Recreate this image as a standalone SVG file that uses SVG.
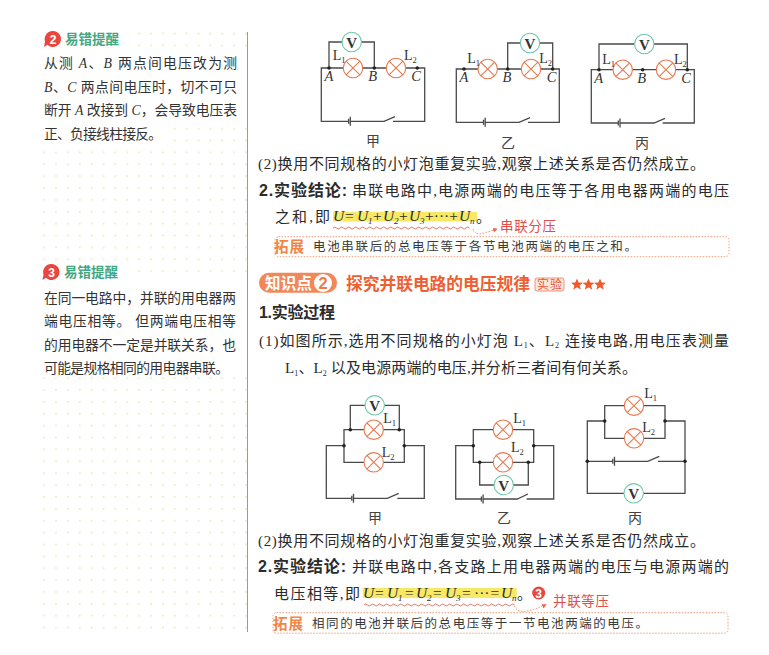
<svg xmlns="http://www.w3.org/2000/svg" width="769" height="655" viewBox="0 0 769 655">
<style>
text{font-family:"Liberation Serif","Noto Sans CJK SC",serif;fill:#2b2b2b}
.b{font-size:15px}
.side{font-size:13.8px;fill:#333}
.bh{font-family:"Liberation Sans","Noto Sans CJK SC",sans-serif;font-weight:700;font-size:16px;fill:#2b2b2b}
.head{font-family:"Noto Sans CJK SC",sans-serif;font-weight:700;font-size:13.5px;fill:#3fa883}
.num{font-family:"Liberation Sans",sans-serif;font-weight:700;font-size:12px;fill:#fff;text-anchor:middle}
.wire{fill:none;stroke:#4a4a4a;stroke-width:1.3}
.lamp{fill:#fff;stroke:#e8794f;stroke-width:1.1}
.vm{fill:#fff;stroke:#6fc6ab;stroke-width:1.1}
.dot{fill:#222}
.vt{font-size:15px;font-weight:700;text-anchor:middle;fill:#333}
.l{font-size:14px;fill:#333}
.lsub{font-size:8.5px}
.pt{font-size:14.5px;font-style:italic;text-anchor:middle;fill:#333}
.cap{font-size:14px;text-anchor:middle;fill:#444;font-family:"Noto Sans CJK SC",sans-serif}
.hl{fill:#f7e866}
.f{font-size:15.5px;font-style:italic}
.fs{font-size:9px;font-style:italic}
.wave{fill:none;stroke:#e8674f;stroke-width:.9}
.arc{fill:none;stroke:#e8674f;stroke-width:.8;stroke-dasharray:1.5 1.5}
.hand{font-family:"Noto Sans CJK SC",sans-serif;font-size:13.5px;fill:#e0504a}
.box{fill:#fff;stroke:#f0936a;stroke-width:.9;stroke-dasharray:1.5 1.5}
.ext{font-family:"Noto Sans CJK SC",sans-serif;font-weight:700;font-size:14.5px;fill:#f08545}
.extt{font-size:12.5px;fill:#3a3a3a}
</style>
<defs>
<pattern id="dots" x="43.3" y="32.7" width="11.87" height="11.88" patternUnits="userSpaceOnUse"><rect x="0" y="0" width="1.7" height="1.7" fill="#eae9bf"/></pattern>
<g id="lamp"><circle class="lamp" r="9.7"/><path class="lamp" d="M-6.9-6.9 6.9 6.9M-6.9 6.9 6.9-6.9"/></g>
<g id="vm"><circle class="vm" r="9.7"/><text class="vt" y="5.500">V</text></g>
<polygon id="star" points="0,-6 1.7,-1.9 6,-1.8 2.6,1 3.8,5.3 0,2.8 -3.8,5.3 -2.6,1 -6,-1.8 -1.7,-1.900" fill="#ee5a2c"/>
<marker id="ah" markerWidth="7" markerHeight="7" refX="5" refY="3" orient="auto"><path d="M0 0 6 3 0 6z" fill="#e8674f"/></marker>
</defs>
<rect width="769" height="655" fill="#fff"/>

<g id="sidebar">
<rect x="42" y="31" width="206" height="602" fill="url(#dots)"/>
<rect x="42" y="30" width="86" height="20" fill="#fff"/>
<rect x="42" y="50" width="206" height="74" fill="#fff"/>
<rect x="42" y="124" width="124" height="22" fill="#fff"/>
<rect x="42" y="262" width="86" height="20" fill="#fff"/>
<rect x="42" y="282" width="206" height="94" fill="#fff"/>
<path d="M247.500 32V632" stroke="#9a9a9a" stroke-width="1"/>
</g>

<g id="note2">
<path d="M53 31a8 8 0 1 1-5.500 13.800L44 47l1-5.500A8 8 0 0 1 53 31z" fill="#e8473f"/>
<text class="num" x="53" y="43.500">2</text>
<text class="head" x="65" y="44" textLength="54">易错提醒</text>
<text class="side" x="44" y="68" textLength="193">从测 <tspan font-style="italic">A</tspan>、<tspan font-style="italic">B</tspan> 两点间电压改为测</text>
<text class="side" x="44" y="91.500" textLength="193"><tspan font-style="italic">B</tspan>、<tspan font-style="italic">C</tspan> 两点间电压时，切不可只</text>
<text class="side" x="44" y="114.500" textLength="193">断开 <tspan font-style="italic">A</tspan> 改接到 <tspan font-style="italic">C</tspan>，会导致电压表</text>
<text class="side" x="44" y="139" textLength="118">正、负接线柱接反。</text>
</g>
<g id="note3">
<path d="M51.500 264a8 8 0 1 1-5.500 13.800L42.500 280l1-5.500A8 8 0 0 1 51.500 264z" fill="#e8473f"/>
<text class="num" x="51.500" y="276.500">3</text>
<text class="head" x="64" y="277" textLength="54">易错提醒</text>
<text class="side" x="44" y="302.500" textLength="192">在同一电路中，并联的用电器两</text>
<text class="side" x="44" y="326" textLength="192">端电压相等。 但两端电压相等</text>
<text class="side" x="44" y="349.500" textLength="192">的用电器不一定是并联关系，也</text>
<text class="side" x="44" y="373" textLength="185">可能是规格相同的用电器串联。</text>
</g>

<g id="connectors">
<path class="wire" d="M348.600 121.300H321.300V68H424.700V121.300H393M350.300 121.300H384L395 116.700M329 68V42H374.300V68M348.600 118.800V123.800M350.300 116.800V125.800"/>
<path class="wire" d="M483.500 122.300H456.300V69H559.300V122.300H528M485.200 122.300H519L530 117.700M507.700 69V43H552.700V69M483.500 119.800V124.800M485.200 117.800V126.800"/>
<path class="wire" d="M618.300 123H591.300V69.700H694.300V123H662.700M620 123H654L665 118.400M599 69.700V44H687.300V69.700M618.300 120.500V125.500M620 118.500V127.500"/>
<path class="wire" d="M351.800 498.300H326.300V445.700H344M404.300 445.700H424.300V498.300H397.300M353.500 498.300H387.300L398.700 493.300M344 429.700H404.300V462.300H344ZM350.300 429.700V405.300H399.300V429.700M351.800 495.800V500.800M353.500 493.800V502.800"/>
<path class="wire" d="M481.400 499H455.700V445.700H473.300M533.700 445.700H553.700V499H526.700M483.100 499H517.300L528 494M473.300 429.700H533.700V462.300H473.300ZM479.700 462.300V485H528.300V462.300M481.400 496.500V501.500M483.100 494.500V503.500"/>
<path class="wire" d="M604.700 405.700H665V438.300H604.700ZM604.700 421H587.300V493.300H685V421H665M587.300 461.300H612.800M614.500 461.300H647.700L659.300 456.300M658 461.300H685M612.800 458.800V463.800M614.500 456.800V465.800"/>
<g id="notes-arcs">
<path class="wave" d="M333 228q1.750-2 3.500 0t3.500 0 3.500 0 3.500 0 3.500 0 3.500 0 3.500 0 3.500 0 3.500 0 3.500 0 3.500 0 3.500 0 3.500 0 3.500 0 3.500 0 3.500 0 3.500 0 3.500 0 3.500 0 3.500 0 3.500 0 3.500 0 3.500 0 3.500 0 3.500 0 3.500 0 3.500 0 3.500 0 3.500 0 3.500 0 3.500 0 3.500 0 3.500 0 3.500 0 3.500 0 3.500 0 3.500 0 3.500 0 3.500 0"/>
<path class="arc" d="M473 229Q475 236 484 233Q491 231 497 229" marker-end="url(#ah)"/>
<path class="wave" d="M364 605q1.750-2 3.500 0t3.500 0 3.500 0 3.500 0 3.500 0 3.500 0 3.500 0 3.500 0 3.500 0 3.500 0 3.500 0 3.500 0 3.500 0 3.500 0 3.500 0 3.500 0 3.500 0 3.500 0 3.500 0 3.500 0 3.500 0 3.500 0 3.500 0 3.500 0 3.500 0 3.500 0 3.500 0 3.500 0 3.500 0 3.500 0 3.500 0 3.500 0 3.500 0 3.500 0 3.500 0 3.500 0 3.500 0 3.500 0 3.500 0 3.500 0 3.500 0 3.500 0 3.500 0"/>
<path class="arc" d="M514 606Q518 613 527 611Q537 609 546 604.500" marker-end="url(#ah)"/>
</g>
</g>

<g id="s1-L1"><use href="#lamp" x="353" y="68"/><text class="l" x="332.700" y="60">L<tspan class="lsub" dy="3">1</tspan></text></g>
<g id="s1-L2"><use href="#lamp" x="396" y="68"/><text class="l" x="404" y="60">L<tspan class="lsub" dy="3">2</tspan></text></g>
<g id="s1-V"><use href="#vm" x="351.700" y="42"/></g>
<g id="s1-pts"><circle class="dot" cx="329" cy="68" r="1.800"/><circle class="dot" cx="374.300" cy="68" r="1.800"/><circle class="dot" cx="417.300" cy="68" r="1.800"/><text class="pt" x="329" y="81">A</text><text class="pt" x="372.700" y="81">B</text><text class="pt" x="416" y="81">C</text></g>
<text class="cap" x="373" y="146">甲</text>

<g id="s2-L1"><use href="#lamp" x="487.700" y="69"/><text class="l" x="467.300" y="62.700">L<tspan class="lsub" dy="3">1</tspan></text></g>
<g id="s2-L2"><use href="#lamp" x="531" y="69"/><text class="l" x="539.300" y="62.700">L<tspan class="lsub" dy="3">2</tspan></text></g>
<g id="s2-V"><use href="#vm" x="530" y="43"/></g>
<g id="s2-pts"><circle class="dot" cx="464" cy="69" r="1.800"/><circle class="dot" cx="507.700" cy="69" r="1.800"/><circle class="dot" cx="552.700" cy="69" r="1.800"/><text class="pt" x="464" y="82">A</text><text class="pt" x="507" y="82">B</text><text class="pt" x="551.700" y="82">C</text></g>
<text class="cap" x="508" y="148">乙</text>

<g id="s3-L1"><use href="#lamp" x="622.700" y="69.700"/><text class="l" x="602.300" y="63.700">L<tspan class="lsub" dy="3">1</tspan></text></g>
<g id="s3-L2"><use href="#lamp" x="666" y="69.700"/><text class="l" x="674" y="63.700">L<tspan class="lsub" dy="3">2</tspan></text></g>
<g id="s3-V"><use href="#vm" x="644.300" y="44"/></g>
<g id="s3-pts"><circle class="dot" cx="599" cy="69.700" r="1.800"/><circle class="dot" cx="642.700" cy="69.700" r="1.800"/><circle class="dot" cx="687.300" cy="69.700" r="1.800"/><text class="pt" x="598.700" y="82.500">A</text><text class="pt" x="641.700" y="82.500">B</text><text class="pt" x="686" y="82.500">C</text></g>
<text class="cap" x="642" y="148">丙</text>

<g id="p1-L1"><use href="#lamp" x="373.700" y="429.700"/><text class="l" x="383.300" y="423">L<tspan class="lsub" dy="3">1</tspan></text></g>
<g id="p1-L2"><use href="#lamp" x="373.700" y="462.300"/><text class="l" x="381.700" y="456.700">L<tspan class="lsub" dy="3">2</tspan></text></g>
<g id="p1-V"><use href="#vm" x="374.700" y="405.300"/></g>
<g id="p1-pts"><circle class="dot" cx="350.300" cy="429.700" r="1.800"/><circle class="dot" cx="399.300" cy="429.700" r="1.800"/><circle class="dot" cx="344" cy="445.700" r="1.800"/><circle class="dot" cx="404.300" cy="445.700" r="1.800"/></g>
<text class="cap" x="375" y="523">甲</text>

<g id="p2-L1"><use href="#lamp" x="503" y="429.700"/><text class="l" x="513.300" y="423">L<tspan class="lsub" dy="3">1</tspan></text></g>
<g id="p2-L2"><use href="#lamp" x="503" y="462.300"/><text class="l" x="511" y="451.700">L<tspan class="lsub" dy="3">2</tspan></text></g>
<g id="p2-V"><use href="#vm" x="503.700" y="485"/></g>
<g id="p2-pts"><circle class="dot" cx="473.300" cy="445.700" r="1.800"/><circle class="dot" cx="533.700" cy="445.700" r="1.800"/><circle class="dot" cx="479.700" cy="462.300" r="1.800"/><circle class="dot" cx="528.300" cy="462.300" r="1.800"/></g>
<text class="cap" x="504" y="523">乙</text>

<g id="p3-L1"><use href="#lamp" x="634" y="405.700"/><text class="l" x="644.300" y="398.300">L<tspan class="lsub" dy="3">1</tspan></text></g>
<g id="p3-L2"><use href="#lamp" x="634" y="438.300"/><text class="l" x="642.300" y="432.300">L<tspan class="lsub" dy="3">2</tspan></text></g>
<g id="p3-V"><use href="#vm" x="633.700" y="493.300"/></g>
<g id="p3-pts"><circle class="dot" cx="604.700" cy="421" r="1.800"/><circle class="dot" cx="665" cy="421" r="1.800"/><circle class="dot" cx="587.300" cy="461.300" r="1.800"/><circle class="dot" cx="685" cy="461.300" r="1.800"/></g>
<text class="cap" x="635" y="523">丙</text>

<g id="series-text">
<text class="b" x="258" y="168.500" textLength="447">(2)换用不同规格的小灯泡重复实验,观察上述关系是否仍然成立。</text>
<text class="bh" x="259" y="196" textLength="88">2.实验结论:</text>
<text class="b" x="352" y="196" textLength="377">串联电路中,电源两端的电压等于各用电器两端的电压</text>
<text class="b" x="275" y="221.500" textLength="55">之和,即</text>
<rect class="hl" x="333" y="212" width="144" height="9.500"/>
<text class="f" y="221"><tspan x="333">U</tspan><tspan x="345" font-style="normal">=</tspan><tspan x="357">U</tspan><tspan class="fs" x="368" dy="2.500">1</tspan><tspan x="373" dy="-2.500" font-style="normal">+</tspan><tspan x="383">U</tspan><tspan class="fs" x="394" dy="2.500">2</tspan><tspan x="399" dy="-2.500" font-style="normal">+</tspan><tspan x="409">U</tspan><tspan class="fs" x="420" dy="2.500">3</tspan><tspan x="425" dy="-2.500" font-style="normal">+···+</tspan><tspan x="459">U</tspan><tspan class="fs" x="470" dy="2.500">n</tspan></text>
<text class="b" x="476" y="222">。</text>
<text class="hand" x="500" y="231" textLength="56">串联分压</text>
</g>
<g id="note-series">
<rect class="box" x="275" y="236.700" width="454" height="20" rx="3.500"/>
<text class="ext" x="274" y="251.500" textLength="30">拓展</text>
<text class="extt" x="313" y="251" textLength="324">电池串联后的总电压等于各节电池两端的电压之和。</text>
</g>

<g id="section2">
<rect x="259" y="272.700" width="78" height="20" rx="10" fill="#f0885a"/>
<text x="265" y="288.500" style="font-family:'Noto Sans CJK SC',sans-serif;font-size:15.500px;font-weight:700;fill:#fff" textLength="47">知识点</text>
<circle cx="323" cy="283" r="9" fill="#fff"/>
<text x="323" y="289" text-anchor="middle" style="font-family:'Liberation Sans',sans-serif;font-size:16.500px;font-weight:700;fill:#ee7a45">2</text>
<text x="346" y="289.500" style="font-family:'Noto Sans CJK SC',sans-serif;font-size:16.800px;font-weight:700;fill:#ee5f33" textLength="184">探究并联电路的电压规律</text>
<rect x="535" y="278" width="29" height="13" rx="2" fill="#fde6dc" stroke="#ee7a55" stroke-width=".8"/>
<text x="537" y="289" style="font-family:'Noto Sans CJK SC',sans-serif;font-size:12px;fill:#e8563a" textLength="25">实验</text>
<use href="#star" x="577" y="284.500"/><use href="#star" x="588.500" y="284.500"/><use href="#star" x="600" y="284.500"/>
</g>
<g id="parallel-text">
<text class="bh" x="259" y="318" textLength="76">1.实验过程</text>
<text class="b" x="259" y="345.500" textLength="470">(1)如图所示,选用不同规格的小灯泡 L<tspan font-size="8" dy="2.500">1</tspan><tspan dy="-2.500">、</tspan>L<tspan font-size="8" dy="2.500">2</tspan><tspan dy="-2.500"> 连接电路,用电压表测量</tspan></text>
<text class="b" x="285" y="373" textLength="352">L<tspan font-size="8" dy="2.500">1</tspan><tspan dy="-2.500">、</tspan>L<tspan font-size="8" dy="2.500">2</tspan><tspan dy="-2.500"> 以及电源两端的电压,并分析三者间有何关系。</tspan></text>
<text class="b" x="258" y="546" textLength="447">(2)换用不同规格的小灯泡重复实验,观察上述关系是否仍然成立。</text>
<text class="bh" x="258" y="572" textLength="88">2.实验结论:</text>
<text class="b" x="352" y="572" textLength="377">并联电路中,各支路上用电器两端的电压与电源两端的</text>
<text class="b" x="274" y="598.500" textLength="86">电压相等,即</text>
<rect class="hl" x="362.700" y="588" width="154" height="10"/>
<text class="f" y="598"><tspan x="363">U</tspan><tspan x="375" font-style="normal">=</tspan><tspan x="387">U</tspan><tspan class="fs" x="398" dy="2.500">1</tspan><tspan x="405" dy="-2.500" font-style="normal">=</tspan><tspan x="416">U</tspan><tspan class="fs" x="427" dy="2.500">2</tspan><tspan x="433" dy="-2.500" font-style="normal">=</tspan><tspan x="445">U</tspan><tspan class="fs" x="456" dy="2.500">3</tspan><tspan x="462" dy="-2.500" font-style="normal">=</tspan><tspan x="474" font-style="normal">···</tspan><tspan x="490.500" font-style="normal">=</tspan><tspan x="501">U</tspan><tspan class="fs" x="512" dy="2.500">n</tspan></text>
<text class="b" x="517" y="599">。</text>
<circle cx="538.700" cy="593" r="6.500" fill="#e8473f"/>
<text class="num" x="538.700" y="597.500">3</text>
<text class="hand" x="553" y="606" textLength="56">并联等压</text>
</g>
<g id="note-parallel">
<rect class="box" x="273" y="612.700" width="455" height="20.500" rx="3.500"/>
<text class="ext" x="273" y="628.500" textLength="30">拓展</text>
<text class="extt" x="312" y="628" textLength="336">相同的电池并联后的总电压等于一节电池两端的电压。</text>
</g>
</svg>
